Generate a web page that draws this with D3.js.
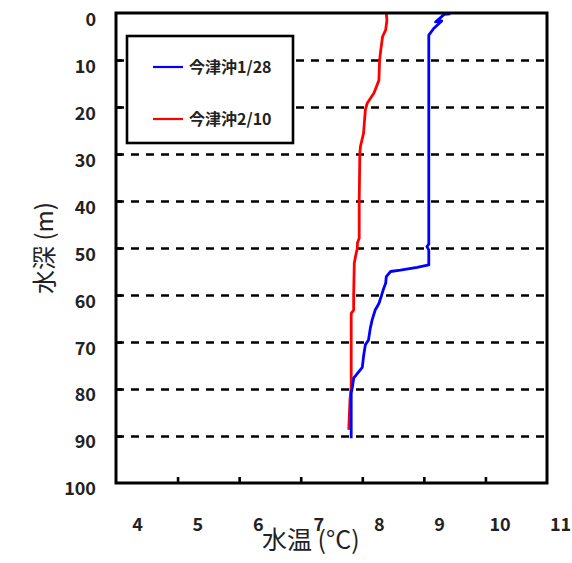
<!DOCTYPE html>
<html><head><meta charset="utf-8">
<script src="https://cdn.jsdelivr.net/npm/d3@7"></script>
<style>
body{margin:0;background:#fff;}
svg{display:block;font-family:"Noto Sans CJK JP","Noto Sans",sans-serif;}
</style></head>
<body><svg id="c" width="572" height="563"></svg>
<script>
// ---- data ----
const seriesNames = ["今津沖1/28", "今津沖2/10"];
const seriesColors = ["#0000ff", "#ff0000"];
// [temperature °C, depth m]
const blueTemps  = [9.43,9.33,9.19,9.29,9.16,9.08,9.08,9.08,9.05,9.08,9.08,8.89,8.62,8.46,8.39,8.38,8.34,8.31,8.27,8.21,8.16,8.13,8.10,8.05,8.02,8.00,7.86,7.84,7.82,7.82];
const blueDepths = [0.2,0.3,1.9,1.7,3.3,4.7,48.5,49.2,49.7,50.4,53.6,54.1,54.7,55.0,56.1,57.5,58.9,60.2,61.8,63.2,65.3,67.1,69.6,70.6,73.1,75.4,77.7,79.5,80.9,90.5];
const redTemps   = [8.39,8.40,8.38,8.33,8.30,8.28,8.27,8.19,8.08,8.05,8.02,7.97,7.96,7.95,7.95,7.92,7.92,7.89,7.87,7.86,7.86,7.82,7.82,7.80,7.78];
const redDepths  = [0.0,1.5,3.6,5.0,7.9,10.2,14.3,17.0,19.2,20.6,25.6,28.4,30.0,40.0,47.9,49.0,50.0,51.8,53.2,60.0,63.2,63.9,79.5,82.3,88.7];
const depthTicks = [0,10,20,30,40,50,60,70,80,90,100];
const gridDepths = [10,20,30,40,50,60,70,80,90];
const tempTicks  = [4,5,6,7,8,9,10,11];
const innerTempTicks = [5,6,7,8,9,10];
const xTitle = "水温 (°C)";
const yTitle = "水深 (m)";

const svg = d3.select("#c");
const L = 116, R = 547, T = 13, B = 483;
const x = d3.scaleLinear().domain([4,11]).range([L,R]);
const y = d3.scaleLinear().domain([0,100]).range([T,B]);
// label positions in the original are offset from the ticks
const xLab = d3.scaleLinear().domain([4,11]).range([137,560]);
const yLab = d3.scaleLinear().domain([0,100]).range([20,489]);

// dashed grid
const grid = svg.append("g").attr("transform",`translate(${L},0)`)
  .call(d3.axisLeft(y).tickValues(gridDepths).tickSize(-(R-L)).tickFormat(""));
grid.select(".domain").remove();
grid.selectAll("line").attr("stroke","#000").attr("stroke-width",2.6).attr("stroke-dasharray","8,7");

// inward ticks
const yt = svg.append("g").attr("transform",`translate(${L},0)`)
  .call(d3.axisLeft(y).tickValues(gridDepths).tickSize(-6).tickFormat(""));
yt.select(".domain").remove();
yt.selectAll("line").attr("stroke","#000").attr("stroke-width",2.6);
const xt = svg.append("g").attr("transform",`translate(0,${B})`)
  .call(d3.axisBottom(x).tickValues(innerTempTicks).tickSize(-6).tickFormat(""));
xt.select(".domain").remove();
xt.selectAll("line").attr("stroke","#000").attr("stroke-width",2.6);

// tick labels
const yl = svg.append("g").attr("transform",`translate(96,0)`)
  .call(d3.axisLeft(yLab).tickValues(depthTicks).tickSize(0).tickPadding(0).tickFormat(d3.format("d")));
yl.select(".domain").remove();
yl.selectAll("text").attr("font-size",18).attr("font-weight",600).attr("fill","#222").attr("font-family","'Noto Sans CJK JP',sans-serif");
const xl = svg.append("g").attr("transform",`translate(0,518)`)
  .call(d3.axisBottom(xLab).tickValues(tempTicks).tickSize(0).tickPadding(0).tickFormat(d3.format("d")));
xl.select(".domain").remove();
xl.selectAll("text").attr("font-size",18).attr("font-weight",600).attr("fill","#222").attr("font-family","'Noto Sans CJK JP',sans-serif");

// legend
svg.append("rect").attr("x",127).attr("y",36).attr("width",166).attr("height",107)
  .attr("fill","#fff").attr("stroke","#000").attr("stroke-width",2.6);
[0,1].forEach(i=>{
  const ly = i===0 ? 67 : 119;
  svg.append("line").attr("x1",153).attr("x2",183).attr("y1",ly).attr("y2",ly)
    .attr("stroke",seriesColors[i]).attr("stroke-width",2.2);
  svg.append("text").attr("x",189).attr("y",ly+6).attr("font-size",16).attr("font-weight","bold")
    .attr("fill","#222").text(seriesNames[i]);
});

// lines
const line = d3.line().x(d=>x(d[0])).y(d=>y(d[1]));
const blue = blueTemps.map((t,i)=>[t,blueDepths[i]]);
const red = redTemps.map((t,i)=>[t,redDepths[i]]);
svg.append("path").datum(red).attr("d",line).attr("fill","none")
  .attr("stroke",seriesColors[1]).attr("stroke-width",2.8).attr("stroke-linejoin","round");
svg.append("path").datum(blue).attr("d",line).attr("fill","none")
  .attr("stroke",seriesColors[0]).attr("stroke-width",2.8).attr("stroke-linejoin","round");

// plot border
svg.append("rect").attr("x",L).attr("y",T).attr("width",R-L).attr("height",B-T)
  .attr("fill","none").attr("stroke","#000").attr("stroke-width",3);

// axis titles
svg.append("text").attr("x",262).attr("y",549).attr("font-size",25).attr("fill","#222").text(xTitle);
svg.append("text").attr("transform","translate(53,248) rotate(-90)").attr("text-anchor","middle")
  .attr("font-size",24).attr("fill","#222").text(yTitle);
</script></body></html>
